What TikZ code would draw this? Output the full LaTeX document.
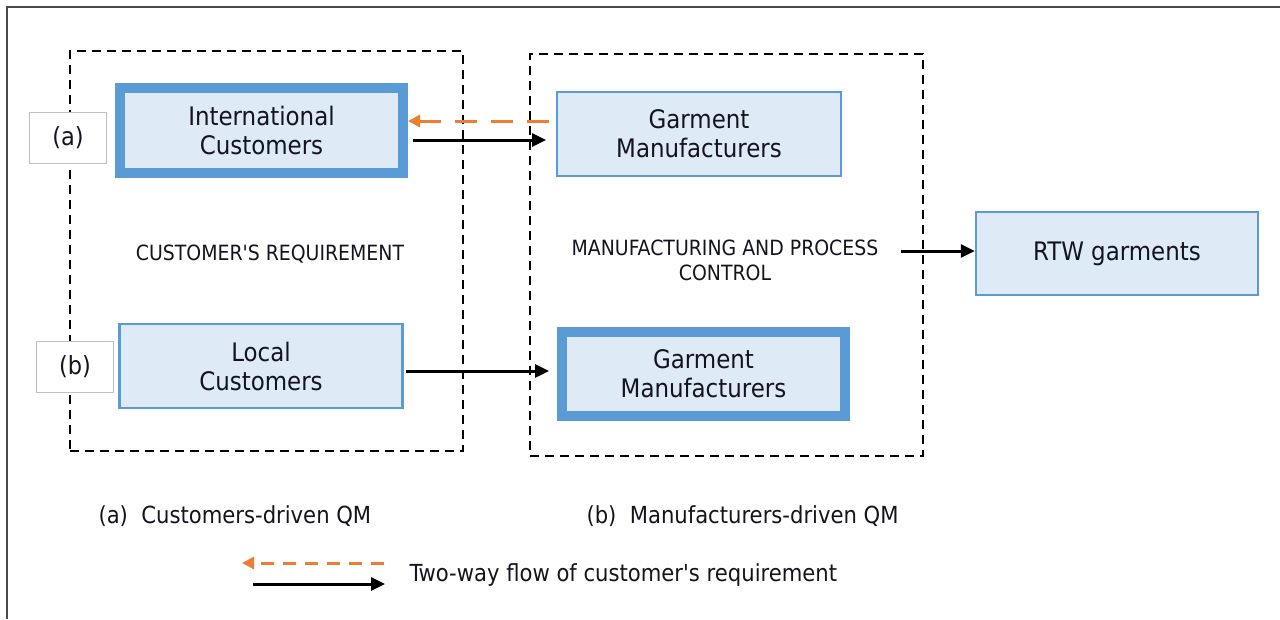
\documentclass[tikz,border=0pt]{standalone}
\usepackage{fontspec}
\setmainfont{DejaVu Sans Condensed}[Ligatures=TeXOff]
\usetikzlibrary{arrows.meta}
\definecolor{boxblue}{HTML}{5B9BD5}
\definecolor{boxfill}{HTML}{DEEAF6}
\definecolor{arrorange}{HTML}{ED7D31}
\definecolor{framegray}{HTML}{4A4A4A}
\definecolor{tagborder}{HTML}{BFBFBF}
\definecolor{txt}{HTML}{141420}
\tikzset{
  x=1pt,y=-1pt,
  bigtext/.style={font=\fontsize{25.5}{29}\selectfont, text=txt, align=center},
  thinbox/.style={draw=boxblue, line width=2.5pt, fill=boxfill, inner sep=0pt},
  thickbox/.style={draw=boxblue, line width=10pt, fill=boxfill, inner sep=0pt},
  tagbox/.style={draw=tagborder, line width=1.5pt, fill=white, inner sep=0pt, font=\fontsize{25}{29}\selectfont, text=txt},
  groupbox/.style={draw=black, line width=2pt, dash pattern=on 9pt off 6pt},
  flow/.style={draw=black, line width=3pt, -{Triangle[length=14pt,width=13pt]}},
  backflow/.style={draw=arrorange, line width=3pt, dash pattern=on 22pt off 14pt, -{Triangle[length=12pt,width=12pt]}},
  smallcap/.style={font=\fontsize{21}{25}\selectfont, text=txt, align=center},
  caption/.style={font=\fontsize{23.5}{27}\selectfont, text=txt, anchor=west},
}
\begin{document}
\begin{tikzpicture}
\useasboundingbox (0,0) rectangle (1280,619);
% outer frame (cropped)
\draw[framegray, line width=2pt] (7,619) -- (7,7) -- (1280,7);
% dashed group boxes
\node[groupbox, minimum width=393pt, minimum height=400pt, inner sep=0pt] (gleft) at (266.5,251) {};
\node[groupbox, minimum width=393pt, minimum height=402pt, inner sep=0pt] (gright) at (726.5,255) {};
% tags
\node[tagbox, minimum width=77pt, minimum height=51pt] (taga) at (68,138) {(a)};
\node[tagbox, minimum width=77pt, minimum height=51pt] (tagb) at (75,367) {(b)};
% boxes
\node[thickbox, minimum width=283pt, minimum height=85pt] (intl) at (261.5,130.5) {};
\node[bigtext] at (intl) {International\\Customers};
\node[thinbox, minimum width=284pt, minimum height=84pt] (gm1) at (699,134) {};
\node[bigtext] at (gm1) {Garment\\Manufacturers};
\node[thinbox, minimum width=283pt, minimum height=84pt] (local) at (261,366) {};
\node[bigtext] at (local) {Local\\Customers};
\node[thickbox, minimum width=283pt, minimum height=84pt] (gm2) at (703.5,374) {};
\node[bigtext] at (gm2) {Garment\\Manufacturers};
\node[thinbox, minimum width=282pt, minimum height=83pt] (rtw) at (1117,253.5) {};
\node[bigtext] at (rtw) {RTW garments};
% inner labels
\node[smallcap] (creq) at (270,254) {CUSTOMER'S REQUIREMENT};
\node[smallcap] (mpc) at (725,260) {MANUFACTURING AND PROCESS\\CONTROL};
% connectors
\coordinate (o1s) at (549,121);
\coordinate (o1e) at (408,121);
\draw[backflow] (o1s) -- (o1e);
\coordinate (b1s) at (413,140);
\coordinate (b1e) at (546,140);
\draw[flow] (b1s) -- (b1e);
\coordinate (b2s) at (406,371);
\coordinate (b2e) at (549,371);
\draw[flow] (b2s) -- (b2e);
\coordinate (b3s) at (901,251);
\draw[flow] (b3s) -- (b3s -| rtw.west);
% captions
\node[caption] (capa) at (95,516) {(a)~~Customers-driven QM};
\node[caption] (capb) at (583,516) {(b)~~Manufacturers-driven QM};
% legend
\coordinate (l1s) at (384,563);
\coordinate (l1e) at (242,563);
\draw[backflow, dash pattern=on 13pt off 9pt] (l1s) -- (l1e);
\coordinate (l2s) at (253,584);
\coordinate (l2e) at (385,584);
\draw[flow] (l2s) -- (l2e);
\node[caption] (legtext) at (406,575) {Two-way flow of customer's requirement};
\end{tikzpicture}
\end{document}
